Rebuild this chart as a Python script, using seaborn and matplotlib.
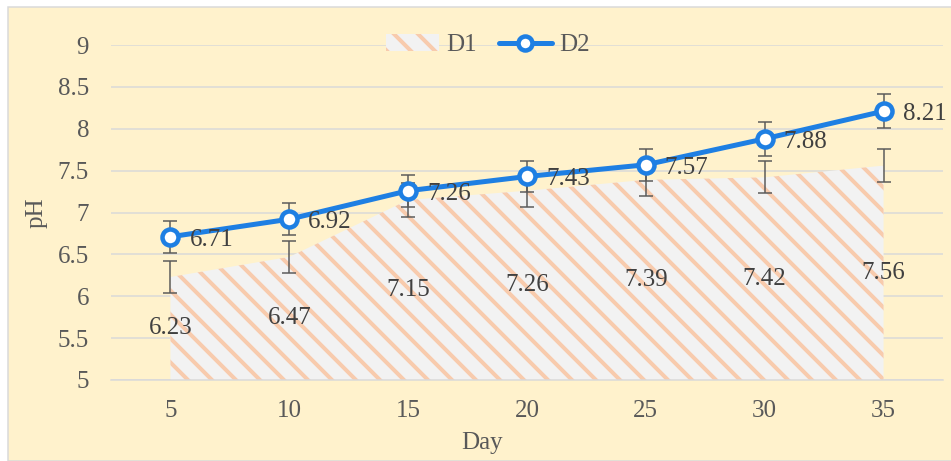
import matplotlib
matplotlib.use('Agg')
import matplotlib.pyplot as plt
from matplotlib.patches import Patch, Rectangle
from matplotlib.lines import Line2D
import numpy as np
import pandas as pd
import seaborn as sns

# data
days = ['5', '10', '15', '20', '25', '30', '35']
d1 = [6.23, 6.47, 7.15, 7.26, 7.39, 7.42, 7.56]
d2 = [6.71, 6.92, 7.26, 7.43, 7.57, 7.88, 8.21]
d1_err = [0.19, 0.19, 0.2, 0.2, 0.19, 0.19, 0.2]
d2_err = [0.19, 0.19, 0.19, 0.19, 0.19, 0.2, 0.2]

bg = '#fff2cc'
grey_txt = '#595959'
blue = '#1e7fe3'
peach = '#f8cbad'

sns.set_style('white')
plt.rcParams['font.family'] = ['Liberation Serif', 'DejaVu Serif']
plt.rcParams['hatch.color'] = peach
plt.rcParams['hatch.linewidth'] = 4.0

df = pd.DataFrame({'pos': np.arange(len(days)), 'day': days, 'D1': d1, 'D2': d2})

fig = plt.figure(figsize=(951 / 72, 461 / 72), dpi=72, facecolor='white')
fig.patches.append(Rectangle((8 / 951, 0), 1, (461 - 7) / 461, transform=fig.transFigure,
                             facecolor=bg, edgecolor='#d9d9d9', lw=1.5, zorder=-10))
ax = fig.add_axes([111 / 951, 81 / 461, 832 / 951, 335 / 461])
ax.set_facecolor(bg)
ax.patch.set_alpha(0)

# D1 as hatched area
ax.fill_between(df['pos'], 5, df['D1'], facecolor='#f2f2f2', edgecolor=peach, hatch='\\',
                lw=0, zorder=2)
ax.errorbar(df['pos'], df['D1'], yerr=d1_err, fmt='none', ecolor=grey_txt, elinewidth=1.5,
            capsize=7, capthick=1.5, zorder=3)

# D2 line
ax.errorbar(df['pos'], df['D2'], yerr=d2_err, fmt='none', ecolor=grey_txt, elinewidth=1.5,
            capsize=7, capthick=1.5, zorder=3)
sns.lineplot(data=df, x='pos', y='D2', ax=ax, color=blue, lw=5, marker='o', markersize=16,
             markerfacecolor='white', markeredgecolor=blue, markeredgewidth=4.5, zorder=4)

for i, (a, b) in enumerate(zip(d1, d2)):
    ax.text(i, (5 + a) / 2, f'{a:.2f}', ha='center', va='center', fontsize=25, color='#404040', zorder=5)
    ax.annotate(f'{b:.2f}', (i, b), xytext=(19, -3), textcoords='offset points',
                ha='left', va='center', fontsize=25, color='#404040', zorder=5)

ax.set_xlim(-0.5, len(days) - 0.5)
ax.set_ylim(5, 9)
ax.set_yticks(np.arange(5, 9.01, 0.5))
ax.set_yticklabels(['5', '5.5', '6', '6.5', '7', '7.5', '8', '8.5', '9'])
ax.set_xticks(df['pos'])
ax.set_xticklabels(days)
ax.set_xticks(np.arange(-0.5, len(days)), minor=True)
ax.tick_params(axis='x', which='major', length=0, pad=20, labelsize=25, labelcolor=grey_txt)
ax.tick_params(axis='x', which='minor', length=8, width=1.5, color='#d9d9d9', direction='out')
ax.tick_params(axis='y', length=0, pad=22, labelsize=25, labelcolor=grey_txt)
ax.grid(axis='y', color='#d9d9d9', lw=1.5, zorder=0)
ax.set_axisbelow(True)
for s in ['top', 'right', 'left']:
    ax.spines[s].set_visible(False)
ax.spines['bottom'].set_color('#d9d9d9')
ax.spines['bottom'].set_linewidth(1.5)

ax.set_xlabel('Day', fontsize=25, color=grey_txt, labelpad=6)
ax.xaxis.set_label_coords(0.446, -0.155)
ax.set_ylabel('pH', fontsize=25, color=grey_txt, labelpad=10)

handles = [Patch(facecolor='#f2f2f2', edgecolor=peach, hatch='\\', lw=0),
           Line2D([], [], color=blue, lw=5, marker='o', markersize=14,
                  markerfacecolor='white', markeredgecolor=blue, markeredgewidth=4.5)]
ax.legend(handles, ['D1', 'D2'], loc='center', bbox_to_anchor=(0.453, 1.0), ncol=2, frameon=False,
          fontsize=25, labelcolor=grey_txt, handlelength=2.1, handletextpad=0.3, columnspacing=0.9)

fig.savefig('out.png', dpi=72, facecolor='white')
